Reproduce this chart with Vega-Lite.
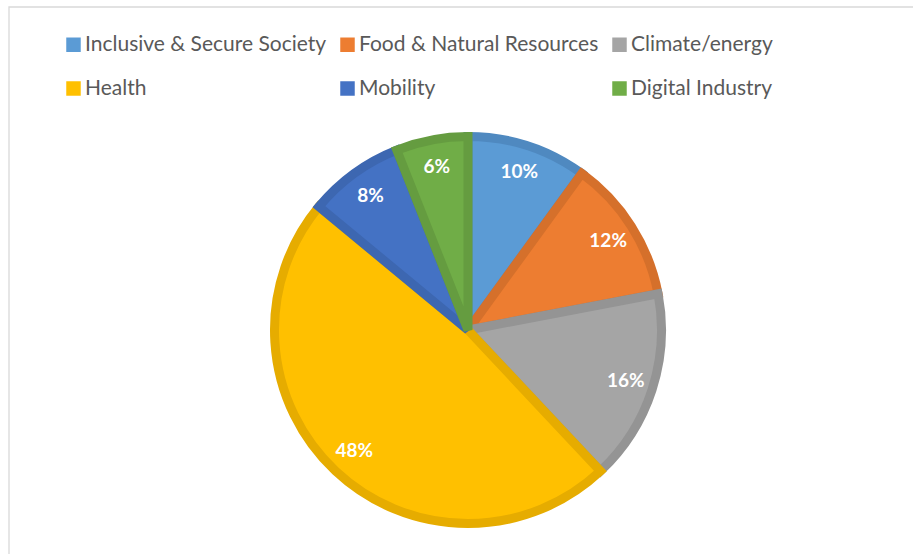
{
  "$schema": "https://vega.github.io/schema/vega-lite/v6.json",
  "autosize": "none",
  "padding": {"left": 9, "top": 7, "right": 0, "bottom": 0},
  "width": 918,
  "height": 646,
  "background": "#ffffff",
  "config": {
    "view": {"stroke": null},
    "font": "Lato"
  },
  "data": {
    "values": [
      {"rank": 1, "category": "Inclusive & Secure Society", "share": 0.10},
      {"rank": 2, "category": "Food & Natural Resources", "share": 0.12},
      {"rank": 3, "category": "Climate/energy", "share": 0.16},
      {"rank": 4, "category": "Health", "share": 0.48},
      {"rank": 5, "category": "Mobility", "share": 0.08},
      {"rank": 6, "category": "Digital Industry", "share": 0.06}
    ]
  },
  "layer": [
    {
      "data": {"values": [{"frame": "chart area"}]},
      "mark": {"type": "rect", "fill": null, "stroke": "#d9d9d9", "strokeWidth": 1.3},
      "encoding": {}
    },
    {
      "mark": {"type": "arc", "outerRadius": 193.5, "strokeWidth": 9, "strokeJoin": "miter"},
      "encoding": {
        "theta": {"field": "share", "type": "quantitative", "stack": true},
        "order": {"field": "rank", "type": "ordinal"},
        "color": {
          "field": "category",
          "type": "nominal",
          "sort": null,
          "scale": {
            "domain": ["Inclusive & Secure Society", "Food & Natural Resources", "Climate/energy", "Health", "Mobility", "Digital Industry"],
            "range": ["#5b9bd5", "#ed7d31", "#a5a5a5", "#ffc000", "#4472c4", "#70ad47"]
          },
          "legend": {
            "orient": "none",
            "legendX": 54,
            "legendY": 27,
            "direction": "horizontal",
            "columns": 3,
            "title": null,
            "symbolType": "square",
            "symbolSize": 210,
            "symbolStrokeWidth": 0,
            "symbolOpacity": 1,
            "labelFont": "Lato",
            "labelFontSize": 21,
            "labelColor": "#595959",
            "labelOffset": 1,
            "labelLimit": 400,
            "columnPadding": 10,
            "rowPadding": 22,
            "padding": 0
          }
        },
        "stroke": {
          "field": "category",
          "type": "nominal",
          "sort": null,
          "scale": {
            "domain": ["Inclusive & Secure Society", "Food & Natural Resources", "Climate/energy", "Health", "Mobility", "Digital Industry"],
            "range": ["#4f89c0", "#d5702b", "#949494", "#e6ac00", "#3d67b1", "#659c40"]
          },
          "legend": null
        }
      }
    },
    {
      "mark": {"type": "text", "radius": 166, "fontSize": 19, "fontWeight": "bold", "font": "Lato", "fill": "#ffffff"},
      "encoding": {
        "theta": {"field": "share", "type": "quantitative", "stack": true},
        "order": {"field": "rank", "type": "ordinal"},
        "text": {"field": "share", "type": "quantitative", "format": ".0%"}
      }
    }
  ]
}
